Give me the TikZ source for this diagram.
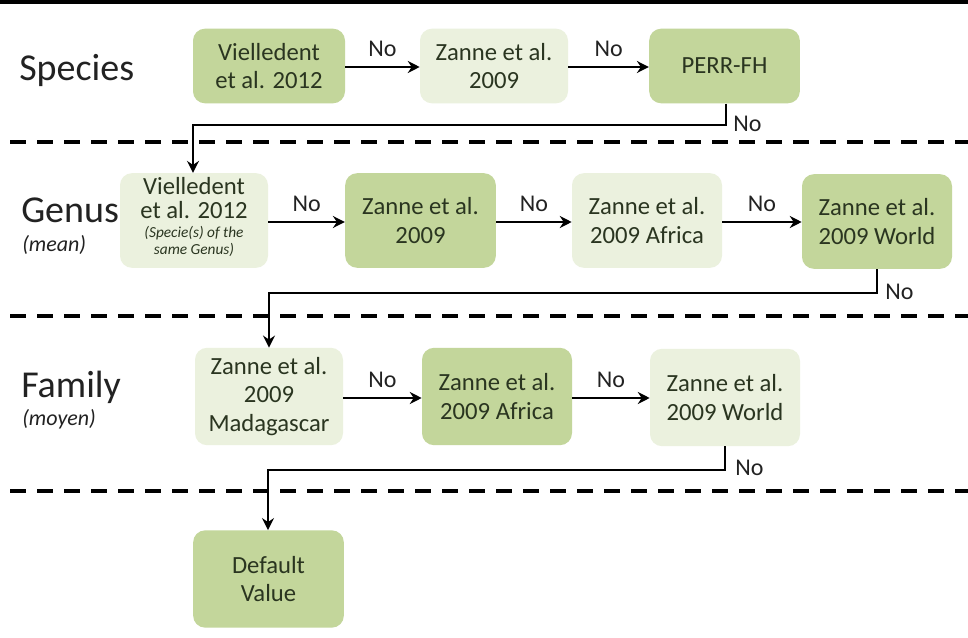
\documentclass[tikz,border=0pt]{standalone}
\usepackage{fontspec}
\setmainfont{Carlito}
\usetikzlibrary{arrows.meta}
\definecolor{dkg}{HTML}{C3D69B}
\definecolor{ltg}{HTML}{EBF1DE}
\definecolor{txt}{HTML}{2A3520}
\definecolor{lbl}{HTML}{222222}
\tikzset{
  box/.style={rounded corners=9pt, minimum width=112pt, minimum height=72pt, inner sep=2pt,
    align=center, text=txt, font=\fontsize{18.5}{21.5}\selectfont},
  dbox/.style={box, fill=dkg},
  lbox/.style={box, fill=ltg},
  arr/.style={-{Stealth[length=9pt,width=9pt,inset=3pt]}, line width=2.1pt, black},
  conn/.style={-{Stealth[length=9pt,width=9pt,inset=3pt]}, line width=1.6pt, black},
  nolbl/.style={font=\fontsize{18}{21}\selectfont, text=lbl, inner sep=0pt},
  rowlbl/.style={font=\fontsize{28.5}{30}\selectfont, text=lbl, anchor=base west, inner sep=0pt},
  sublbl/.style={font=\fontsize{16.5}{19}\selectfont\itshape, text=lbl, anchor=base west, inner sep=0pt},
  boxline/.style={text=txt, inner sep=0pt, anchor=base, font=\fontsize{18.5}{21.5}\selectfont},
  smallline/.style={text=txt, inner sep=0pt, anchor=base, font=\fontsize{11.5}{12.5}\selectfont\itshape},
  sep/.style={line width=2.6pt, dash pattern=on 12pt off 8.25pt, black}
}
\begin{document}
\begin{tikzpicture}[x=0.75pt,y=-0.75pt]
\useasboundingbox (0,0) rectangle (968,638);
\fill[white] (0,0) rectangle (968,638);
\draw[line width=2.4pt] (0,2) -- (968,2);
% separators
\draw[sep] (10,142) -- (968,142);
\draw[sep] (10,316) -- (968,316);
\draw[sep] (10,491) -- (968,491);
% row labels
\node[rowlbl] (lsp) at (19,81) {Species};
\node[rowlbl] (lge) at (21,223) {Genus};
\node[sublbl] (lgm) at (22,252) {(mean)};
\node[rowlbl] (lfa) at (21,397) {Family};
\node[sublbl] (lfm) at (22,425) {(moyen)};
% species
\node[dbox, minimum width=114pt, minimum height=56pt] (s1) at (269,66) {Vielledent\\et al. 2012};
\node[lbox, minimum width=111pt, minimum height=56pt] (s2) at (494,66) {Zanne et al.\\2009};
\node[dbox, minimum width=113pt, minimum height=56pt] (s3) at (724.5,66) {PERR-FH};
% genus
\node[lbox, minimum width=111pt, minimum height=71pt] (g1) at (194,220.5) {};
\node[boxline] (g1a) at (194,195) {Vielledent};
\node[boxline] (g1b) at (194,219) {et al. 2012};
\node[smallline] (g1c) at (194,238) {(Specie(s) of the};
\node[smallline] (g1d) at (194,254) {same Genus)};
\node[dbox, minimum width=113pt, minimum height=71pt] (g2) at (420.5,220.5) {Zanne et al.\\2009};
\node[lbox, minimum width=112.5pt, minimum height=71pt] (g3) at (647,220.5) {Zanne et al.\\2009 Africa};
\node[dbox, minimum width=112.5pt, minimum height=71pt] (g4) at (877,221.5) {Zanne et al.\\2009 World};
% family
\node[lbox, minimum width=111pt, minimum height=73pt] (f1) at (269,396.5) {Zanne et al.\\2009\\Madagascar};
\node[dbox, minimum width=112.5pt, minimum height=73pt] (f2) at (497,396.5) {Zanne et al.\\2009 Africa};
\node[lbox, minimum width=112.5pt, minimum height=73pt] (f3) at (725,397.5) {Zanne et al.\\2009 World};
% default
\node[dbox, minimum width=113pt, minimum height=73pt] (d1) at (268.5,579) {Default\\Value};
% horizontal arrows
\draw[arr] (s1.east |- 0,67) -- (s2.west |- 0,67) node[nolbl, midway, above=7pt] {No};
\draw[arr] (s2.east |- 0,67) -- (s3.west |- 0,67) node[nolbl, midway, above=7pt] {No};
\draw[arr] (g1.east |- 0,222) -- (g2.west |- 0,222) node[nolbl, midway, above=7pt] {No};
\draw[arr] (g2.east |- 0,222) -- (g3.west |- 0,222) node[nolbl, midway, above=7pt] {No};
\draw[arr] (g3.east |- 0,222) -- (g4.west |- 0,222) node[nolbl, midway, above=7pt] {No};
\draw[arr] (f1.east |- 0,398) -- (f2.west |- 0,398) node[nolbl, midway, above=7pt] {No};
\draw[arr] (f2.east |- 0,398) -- (f3.west |- 0,398) node[nolbl, midway, above=7pt] {No};
% connectors between rows
\coordinate (c1a) at (726,125);
\coordinate (c1b) at (193,125);
\draw[conn] (s3.south -| c1a) -- (c1a) -- (c1b) -- (c1b |- g1.north);
\node[nolbl, anchor=west] (n1) at (733,124) {No};
\coordinate (c2a) at (877,293);
\coordinate (c2b) at (269,293);
\draw[conn] (g4.south -| c2a) -- (c2a) -- (c2b) -- (c2b |- f1.north);
\node[nolbl, anchor=west] (n2) at (885,292) {No};
\coordinate (c3a) at (725,470);
\coordinate (c3b) at (268,470);
\draw[conn] (f3.south -| c3a) -- (c3a) -- (c3b) -- (c3b |- d1.north);
\node[nolbl, anchor=west] (n3) at (735,468) {No};
\end{tikzpicture}
\end{document}
